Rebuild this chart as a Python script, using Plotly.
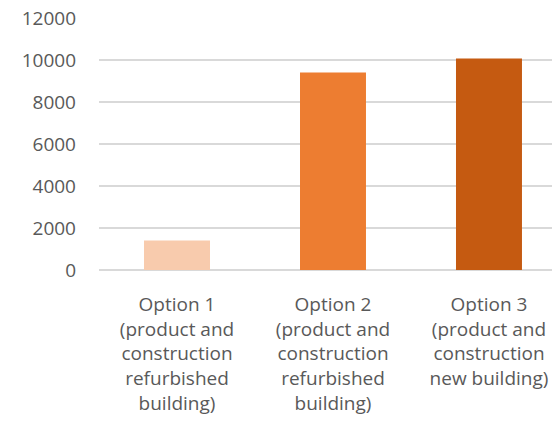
import plotly.graph_objects as go

categories = [
    "Option 1<br>(product and<br>construction<br>refurbished<br>building)",
    "Option 2<br>(product and<br>construction<br>refurbished<br>building)",
    "Option 3<br>(product and<br>construction<br>new building)",
]
values = [1400, 9400, 10070]
bar_colors = ["#F8CBAD", "#ED7D31", "#C55A11"]
y_ticks = [0, 2000, 4000, 6000, 8000, 10000, 12000]

font_family = "'Open Sans', Lato, sans-serif"
text_color = "#595959"
grid_color = "#D9D9D9"

fig = go.Figure(
    go.Bar(
        x=list(range(len(categories))),
        y=values,
        marker=dict(color=bar_colors, line=dict(width=0)),
        width=0.423,
    )
)

fig.update_layout(
    width=552,
    height=433,
    margin=dict(l=99, r=0, t=18, b=162.5),
    paper_bgcolor="white",
    plot_bgcolor="white",
    showlegend=False,
    font=dict(family=font_family, size=19, color=text_color),
)

fig.update_xaxes(
    range=[-0.5, 2.404],
    tickmode="array",
    tickvals=list(range(len(categories))),
    ticktext=categories,
    showgrid=False,
    zeroline=False,
    showline=False,
    ticks="",
    tickangle=0,
    ticklabelstandoff=21,
)

fig.update_yaxes(
    range=[0, 12000],
    tickmode="array",
    tickvals=y_ticks,
    ticktext=[str(v) for v in y_ticks],
    showgrid=True,
    gridcolor=grid_color,
    gridwidth=1.5,
    zeroline=True,
    zerolinecolor=grid_color,
    zerolinewidth=1.5,
    showline=False,
    ticks="",
    ticklabelstandoff=22,
)

fig.write_html("out.html")
